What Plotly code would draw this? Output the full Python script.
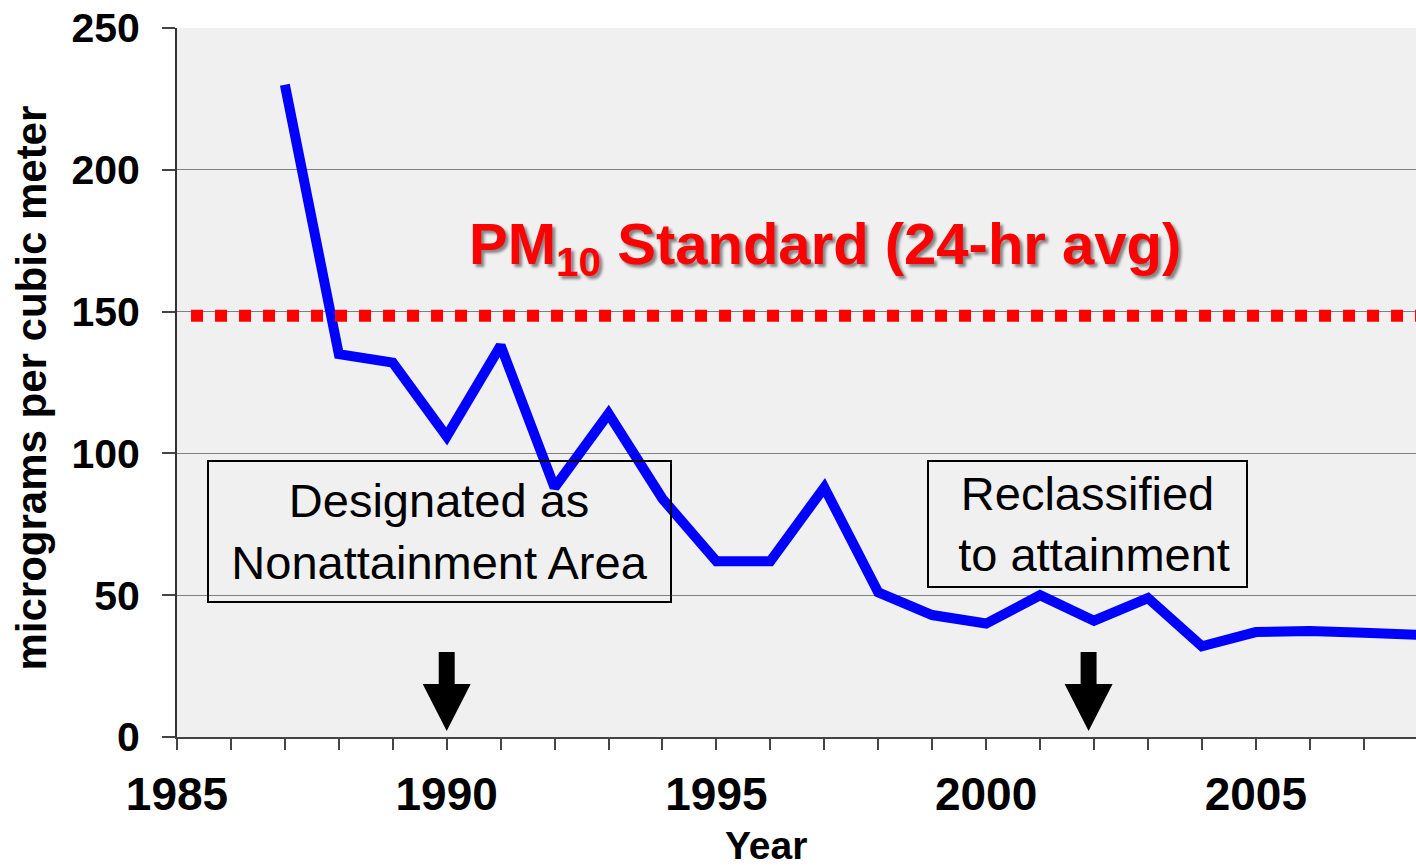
import plotly.graph_objects as go

# ---- data ----
years = [1987, 1988, 1989, 1990, 1991, 1992, 1993, 1994, 1995, 1996, 1997,
         1998, 1999, 2000, 2001, 2002, 2003, 2004, 2005, 2006, 2007, 2008]
pm10 = [230, 135, 132, 106, 138, 88, 114, 84, 62, 62, 88,
        51, 43, 40, 50, 41, 49, 32, 37, 37.4, 36.8, 36]

standard_level = 148.5
standard_x = [1985.26, 2008.5]
standard_label = "PM<sub>10</sub> Standard (24-hr avg)"

event_years = [1990.0, 2001.9]
event_labels = ["Designated as<br>Nonattainment Area",
                "Reclassified<br>\u00a0to attainment"]

x_ticks = [1985, 1990, 1995, 2000, 2005]
y_ticks = [0, 50, 100, 150, 200, 250]

FONT = "Liberation Sans, Arial, sans-serif"

fig = go.Figure()

fig.add_trace(go.Scatter(
    x=years, y=pm10, mode="lines",
    line=dict(color="#0000ff", width=10),
    hoverinfo="skip"))

fig.add_trace(go.Scatter(
    x=standard_x, y=[standard_level] * len(standard_x), mode="lines",
    line=dict(color="#ff0000", width=12, dash="dot"),
    hoverinfo="skip"))

# down arrows marking the events
shaft_half, head_half = 0.148, 0.445
arrow_top, head_base, arrow_tip = 30.0, 18.7, 2.1
for ex in event_years:
    path = (f"M {ex-shaft_half},{arrow_top} L {ex+shaft_half},{arrow_top} "
            f"L {ex+shaft_half},{head_base} L {ex+head_half},{head_base} "
            f"L {ex},{arrow_tip} L {ex-head_half},{head_base} "
            f"L {ex-shaft_half},{head_base} Z")
    fig.add_shape(type="path", path=path, xref="x", yref="y",
                  fillcolor="black", line=dict(width=0), layer="above")

# event boxes
box_pos = [(1989.87, 72.5, 461, 139), (2001.88, 75.1, 317, 124)]
for (bx, by, bw, bh), txt in zip(box_pos, event_labels):
    fig.add_annotation(
        x=bx, y=by, xref="x", yref="y", text=txt, showarrow=False,
        xanchor="center", yanchor="middle", align="center",
        width=bw, height=bh, borderpad=0,
        bordercolor="black", borderwidth=2,
        font=dict(family=FONT, size=47, color="black"))

# standard label
fig.add_annotation(
    x=1997.01, y=172.5, xref="x", yref="y", text=standard_label,
    showarrow=False, xanchor="center", yanchor="middle",
    font=dict(family=FONT, size=58, color="#ff0000", weight="bold",
              shadow="3px 3px 3px rgba(0,0,0,0.45)"))

# axis titles as annotations
fig.add_annotation(
    x=-0.1178, y=0.4915, xref="paper", yref="paper",
    text="micrograms per cubic meter", textangle=-90, showarrow=False,
    xanchor="center", yanchor="middle",
    font=dict(family=FONT, size=42, color="black", weight="bold"))
fig.add_annotation(
    x=0.4754, y=-0.12, xref="paper", yref="paper",
    text="Year", showarrow=False, xanchor="center", yanchor="top",
    font=dict(family=FONT, size=39, color="black", weight="bold"))

fig.update_xaxes(
    range=[1985, 2007.97], tickvals=x_ticks,
    ticks="outside", ticklen=11, tickwidth=1.5, tickcolor="#444",
    minor=dict(dtick=1, tick0=1985, ticks="outside", ticklen=11,
               tickwidth=1.5, tickcolor="#444"),
    showgrid=False, zeroline=False,
    showline=True, linecolor="#444", linewidth=2,
    ticklabelstandoff=5,
    tickfont=dict(family=FONT, size=46, color="black", weight="bold"))

fig.update_yaxes(
    range=[0, 250], tickvals=y_ticks,
    ticks="outside", ticklen=13, tickwidth=1.5, tickcolor="#444",
    showgrid=True, gridcolor="#808080", gridwidth=1, zeroline=False,
    showline=True, linecolor="#333", linewidth=2,
    ticklabelstandoff=14,
    tickfont=dict(family=FONT, size=41, color="black", weight="bold"))

fig.update_layout(
    width=1416, height=867,
    margin=dict(l=177, r=0, t=28, b=130),
    plot_bgcolor="#f0f0f0", paper_bgcolor="white",
    showlegend=False)

fig.write_html("out.html",
               config={"displayModeBar": False},
               post_script="document.body.style.margin='0';"
                           "document.body.style.overflow='hidden';")
